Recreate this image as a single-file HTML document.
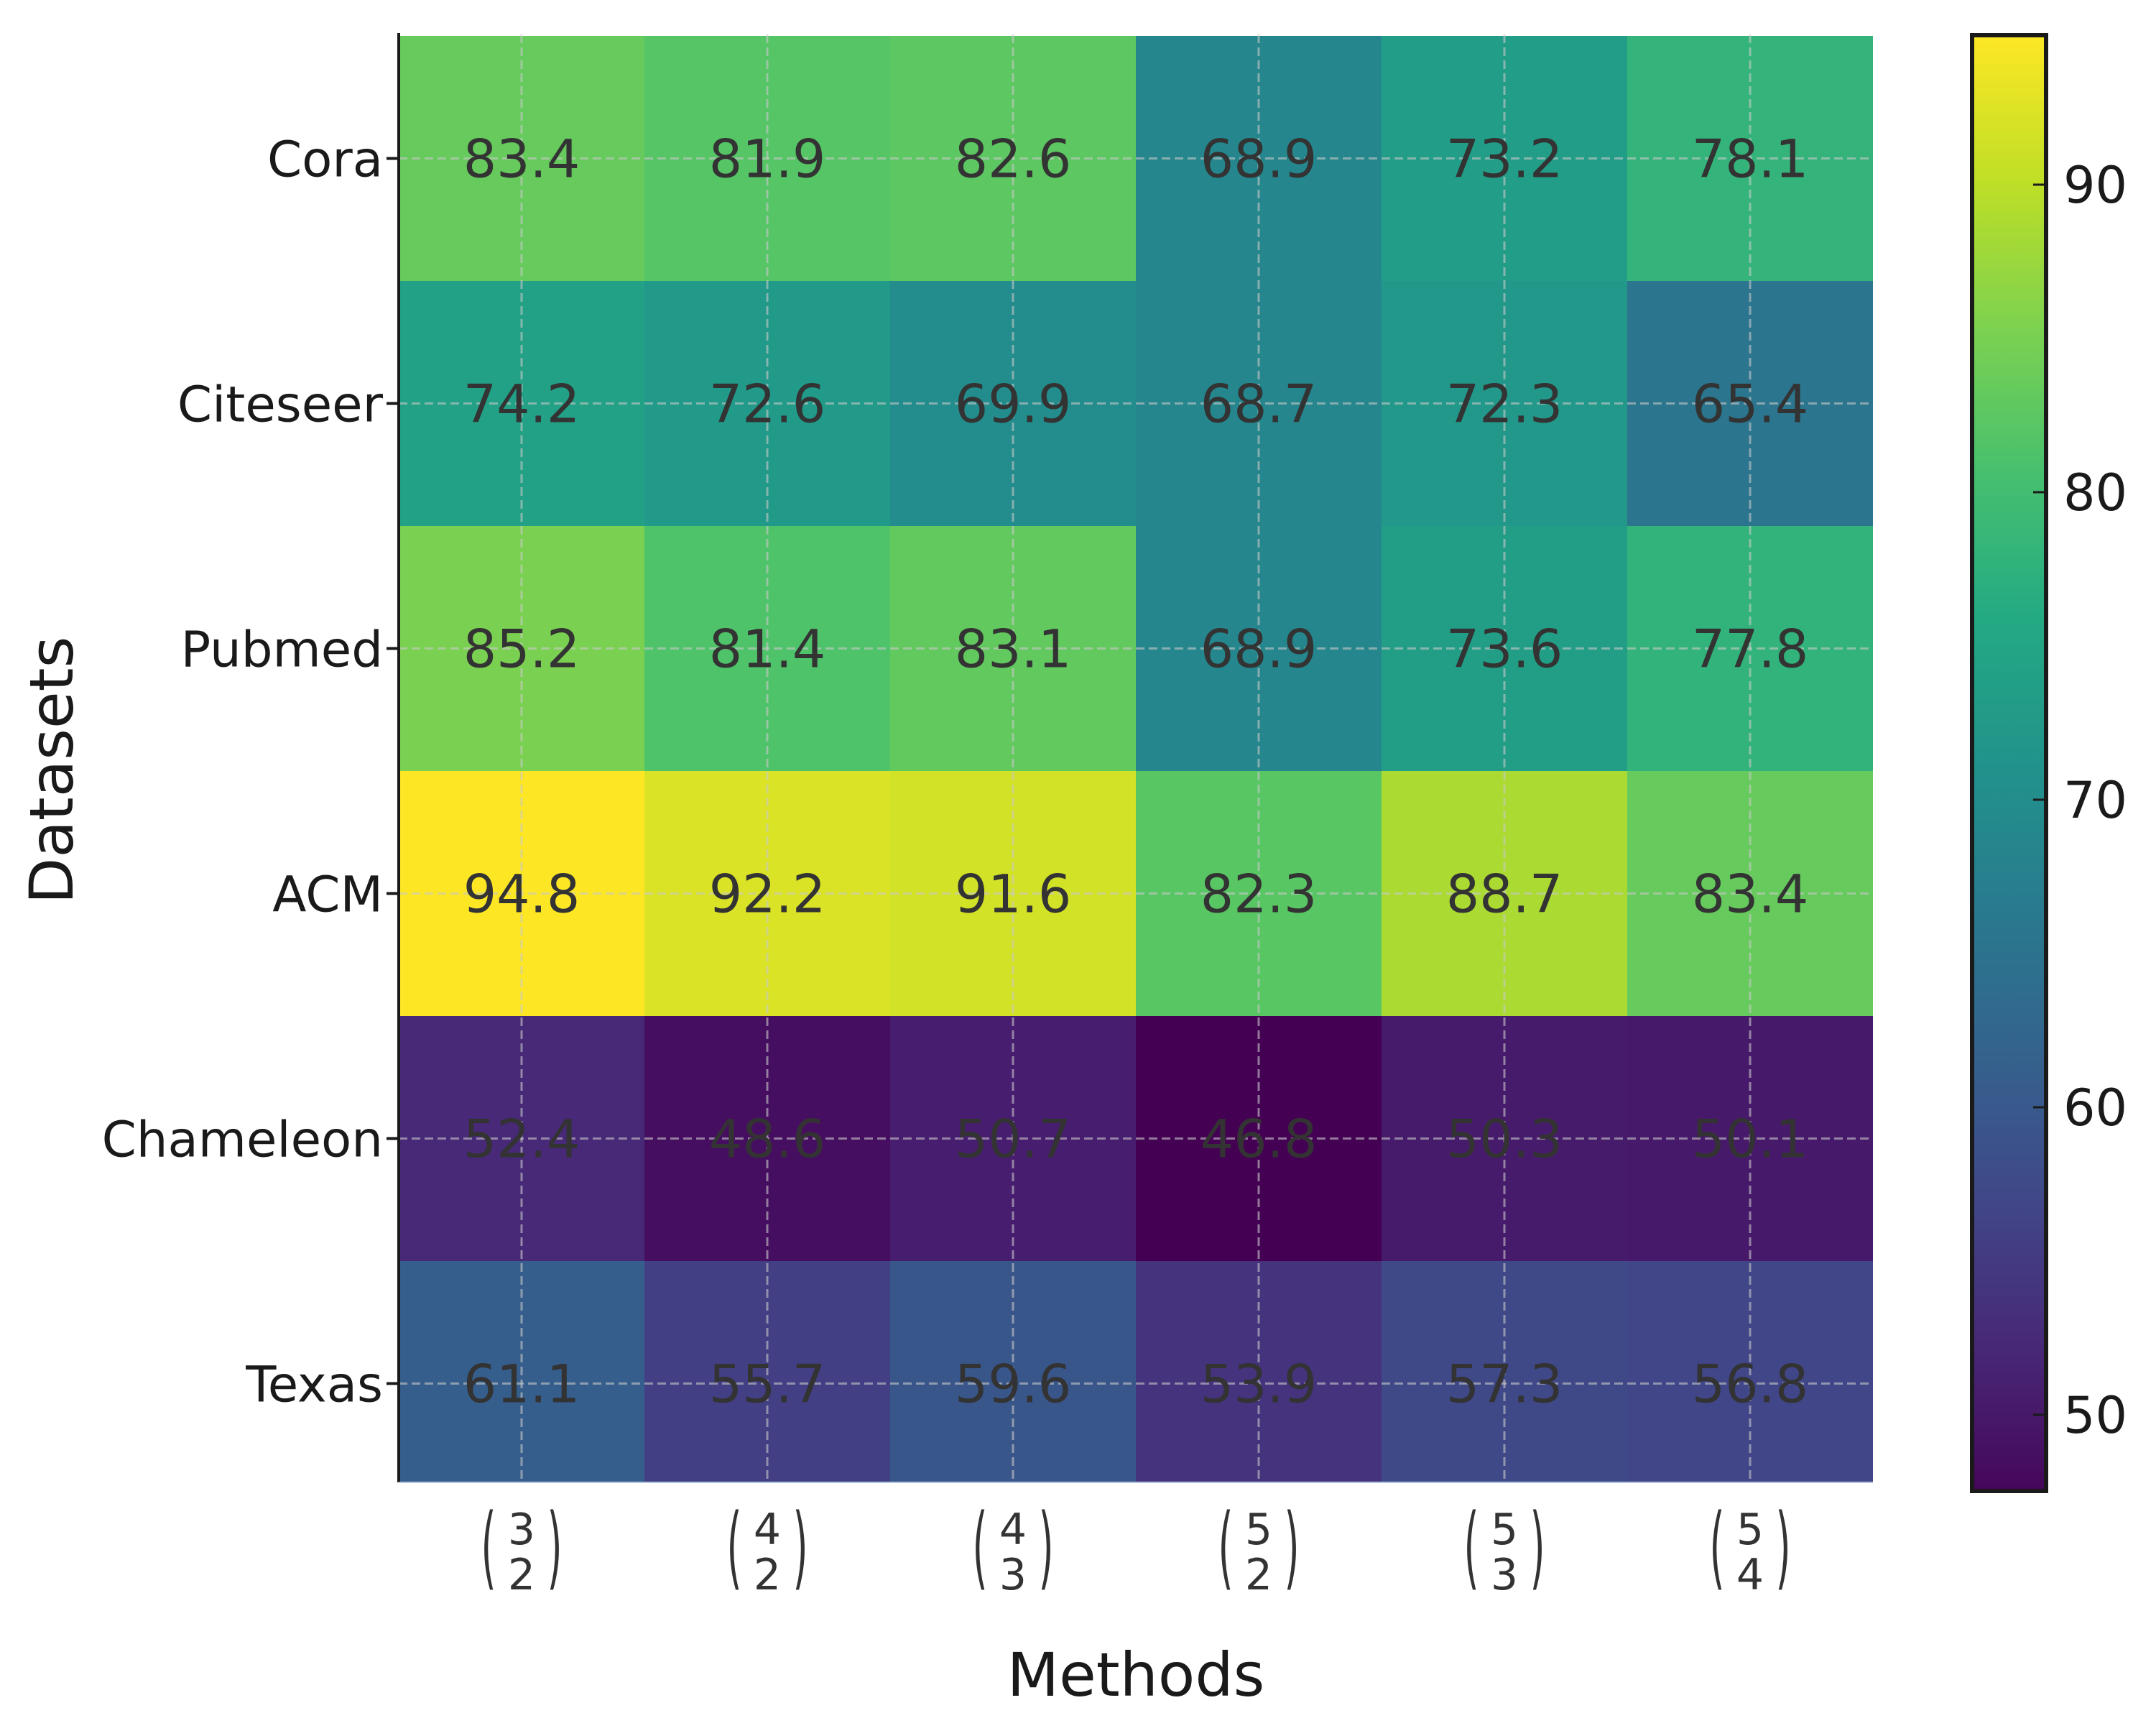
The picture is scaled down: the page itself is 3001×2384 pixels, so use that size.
<!DOCTYPE html>
<html><head><meta charset="utf-8">
<style>
html,body{margin:0;padding:0;background:#fff;}
svg{display:block;font-family:"DejaVu Sans","Liberation Sans",sans-serif;}
</style></head>
<body>
<svg id="chart" width="3001" height="2384" viewBox="0 0 3001 2384" xmlns="http://www.w3.org/2000/svg">
<defs>
<clipPath id="plotClip"><rect x="555" y="48" width="2052" height="2015"/></clipPath>
<linearGradient id="cbGrad" x1="0" y1="1" x2="0" y2="0"></linearGradient>
</defs>
<g id="cells" clip-path="url(#plotClip)"></g>
<g id="grid" clip-path="url(#plotClip)"></g>
<g id="labels"></g>
<g id="axes"></g>
<g id="colorbar"></g>
</svg>
<script>
const datasets = ["Cora","Citeseer","Pubmed","ACM","Chameleon","Texas"];
const methodsTop = ["3","4","4","5","5","5"];
const methodsBottom = ["2","2","3","2","3","4"];
const valuesCora = [83.4,81.9,82.6,68.9,73.2,78.1];
const valuesCiteseer = [74.2,72.6,69.9,68.7,72.3,65.4];
const valuesPubmed = [85.2,81.4,83.1,68.9,73.6,77.8];
const valuesACM = [94.8,92.2,91.6,82.3,88.7,83.4];
const valuesChameleon = [52.4,48.6,50.7,46.8,50.3,50.1];
const valuesTexas = [61.1,55.7,59.6,53.9,57.3,56.8];
const cbTicks = [50,60,70,80,90];

const values = [valuesCora,valuesCiteseer,valuesPubmed,valuesACM,valuesChameleon,valuesTexas];
const NS = "http://www.w3.org/2000/svg";
const all = values.flat();
const vmin = Math.min(...all), vmax = Math.max(...all);
const vir = ["#440154","#482475","#414487","#355f8d","#2a788e","#21918c","#22a884","#44bf70","#7ad151","#bddf26","#fde725"];
function hex(h){return [1,3,5].map(i=>parseInt(h.substr(i,2),16));}
function viridis(t){
  t=Math.max(0,Math.min(1,t));const p=t*10,i=Math.min(9,Math.floor(p)),f=p-i;
  const a=hex(vir[i]),b=hex(vir[i+1]);
  return "rgb("+a.map((v,k)=>Math.round(v+(b[k]-v)*f)).join(",")+")";
}
function color(v){return viridis((v-vmin)/(vmax-vmin));}
const X0=555, CW=342, Y0=50, RH=341, PB=2063;
const xC = j => X0 + CW*(j+0.5);
const yC = i => Y0 + RH*(i+0.5);
function mk(tag,attrs,parent){const e=document.createElementNS(NS,tag);for(const k in attrs)e.setAttribute(k,attrs[k]);parent.appendChild(e);return e;}
const gc=document.getElementById("cells"), gg=document.getElementById("grid"), gl=document.getElementById("labels"), ga=document.getElementById("axes"), gcb=document.getElementById("colorbar");

values.forEach((row,i)=>row.forEach((v,j)=>{
  const r=mk("rect",{x:X0+CW*j,y:Y0+RH*i,width:CW+0.5,height:RH+0.5,fill:color(v)},gc);
  
  
}));
datasets.forEach((d,i)=>{
  const l=mk("line",{x1:X0,x2:X0+CW*6,y1:yC(i),y2:yC(i),stroke:"#c8c8c8","stroke-opacity":"0.6","stroke-width":3,"stroke-dasharray":"12 6"},gg);
  
  
});
methodsTop.forEach((m,j)=>{
  const l=mk("line",{x1:xC(j),x2:xC(j),y1:48,y2:PB,stroke:"#c8c8c8","stroke-opacity":"0.6","stroke-width":3,"stroke-dasharray":"12 6"},gg);
  
  
});
values.forEach((row,i)=>row.forEach((v,j)=>{
  const t=mk("text",{x:xC(j),y:yC(i)+26,"text-anchor":"middle","font-size":73,fill:"#333333"},gl);
  t.textContent=v.toFixed(1);
  
  
}));
mk("line",{x1:555,x2:555,y1:46,y2:PB,stroke:"#1a1a1a","stroke-width":4},ga);
mk("line",{x1:555,x2:2607,y1:PB,y2:PB,stroke:"#b0c4de","stroke-width":2},ga);
datasets.forEach((d,i)=>{
  mk("line",{x1:538,x2:555,y1:yC(i),y2:yC(i),stroke:"#1a1a1a","stroke-width":4},ga);
  const t=mk("text",{x:533,y:yC(i)+25,"text-anchor":"end","font-size":69,fill:"#1a1a1a"},ga);
  t.textContent=d;
  
  
});
methodsTop.forEach((m,j)=>{
  const g=mk("g",{},ga);
  
  
  const cx=xC(j);
  const lp=mk("text",{x:0,y:0,"font-size":60,fill:"#333","text-anchor":"middle",transform:`translate(${cx-46},2196) scale(0.9,2.1)`},g); lp.textContent="(";
  const rp=mk("text",{x:0,y:0,"font-size":60,fill:"#333","text-anchor":"middle",transform:`translate(${cx+46},2196) scale(0.9,2.1)`},g); rp.textContent=")";
  const a=mk("text",{x:cx,y:2149,"font-size":60,fill:"#333","text-anchor":"middle"},g); a.textContent=m;
  const b=mk("text",{x:cx,y:2212,"font-size":60,fill:"#333","text-anchor":"middle"},g); b.textContent=methodsBottom[j];
});
const xt=mk("text",{x:1581,y:2360,"text-anchor":"middle","font-size":84,fill:"#1a1a1a"},ga); xt.textContent="Methods";
 
const yt=mk("text",{x:0,y:0,"text-anchor":"middle","font-size":84,fill:"#1a1a1a",transform:"translate(101,1072) rotate(-90)"},ga); yt.textContent="Datasets";
 
const cbTop=49, cbBot=2075, cbX=2745, cbW=103;
const cbPx=(1969-257)/40;
const cbHi=90+(257-cbTop)/cbPx, cbLo=50-(cbBot-1969)/cbPx;
const cbY = v => 1969-(v-50)*cbPx;
const grad=document.getElementById("cbGrad");
for(let k=0;k<=20;k++){const v=cbLo+(cbHi-cbLo)*k/20;mk("stop",{offset:(k/20),"stop-color":color(v)},grad);}
const cbr=mk("rect",{x:cbX,y:cbTop,width:cbW,height:cbBot-cbTop,fill:"url(#cbGrad)",stroke:"#1a1a1a","stroke-width":6},gcb);
 
cbTicks.forEach(v=>{
  mk("line",{x1:cbX+cbW-18,x2:cbX+cbW,y1:cbY(v),y2:cbY(v),stroke:"#1a1a1a","stroke-width":3},gcb);
  const t=mk("text",{x:2872,y:cbY(v)+25,"font-size":70,fill:"#1a1a1a"},gcb);
  t.textContent=v;
  
  
});
</script>
</body></html>
